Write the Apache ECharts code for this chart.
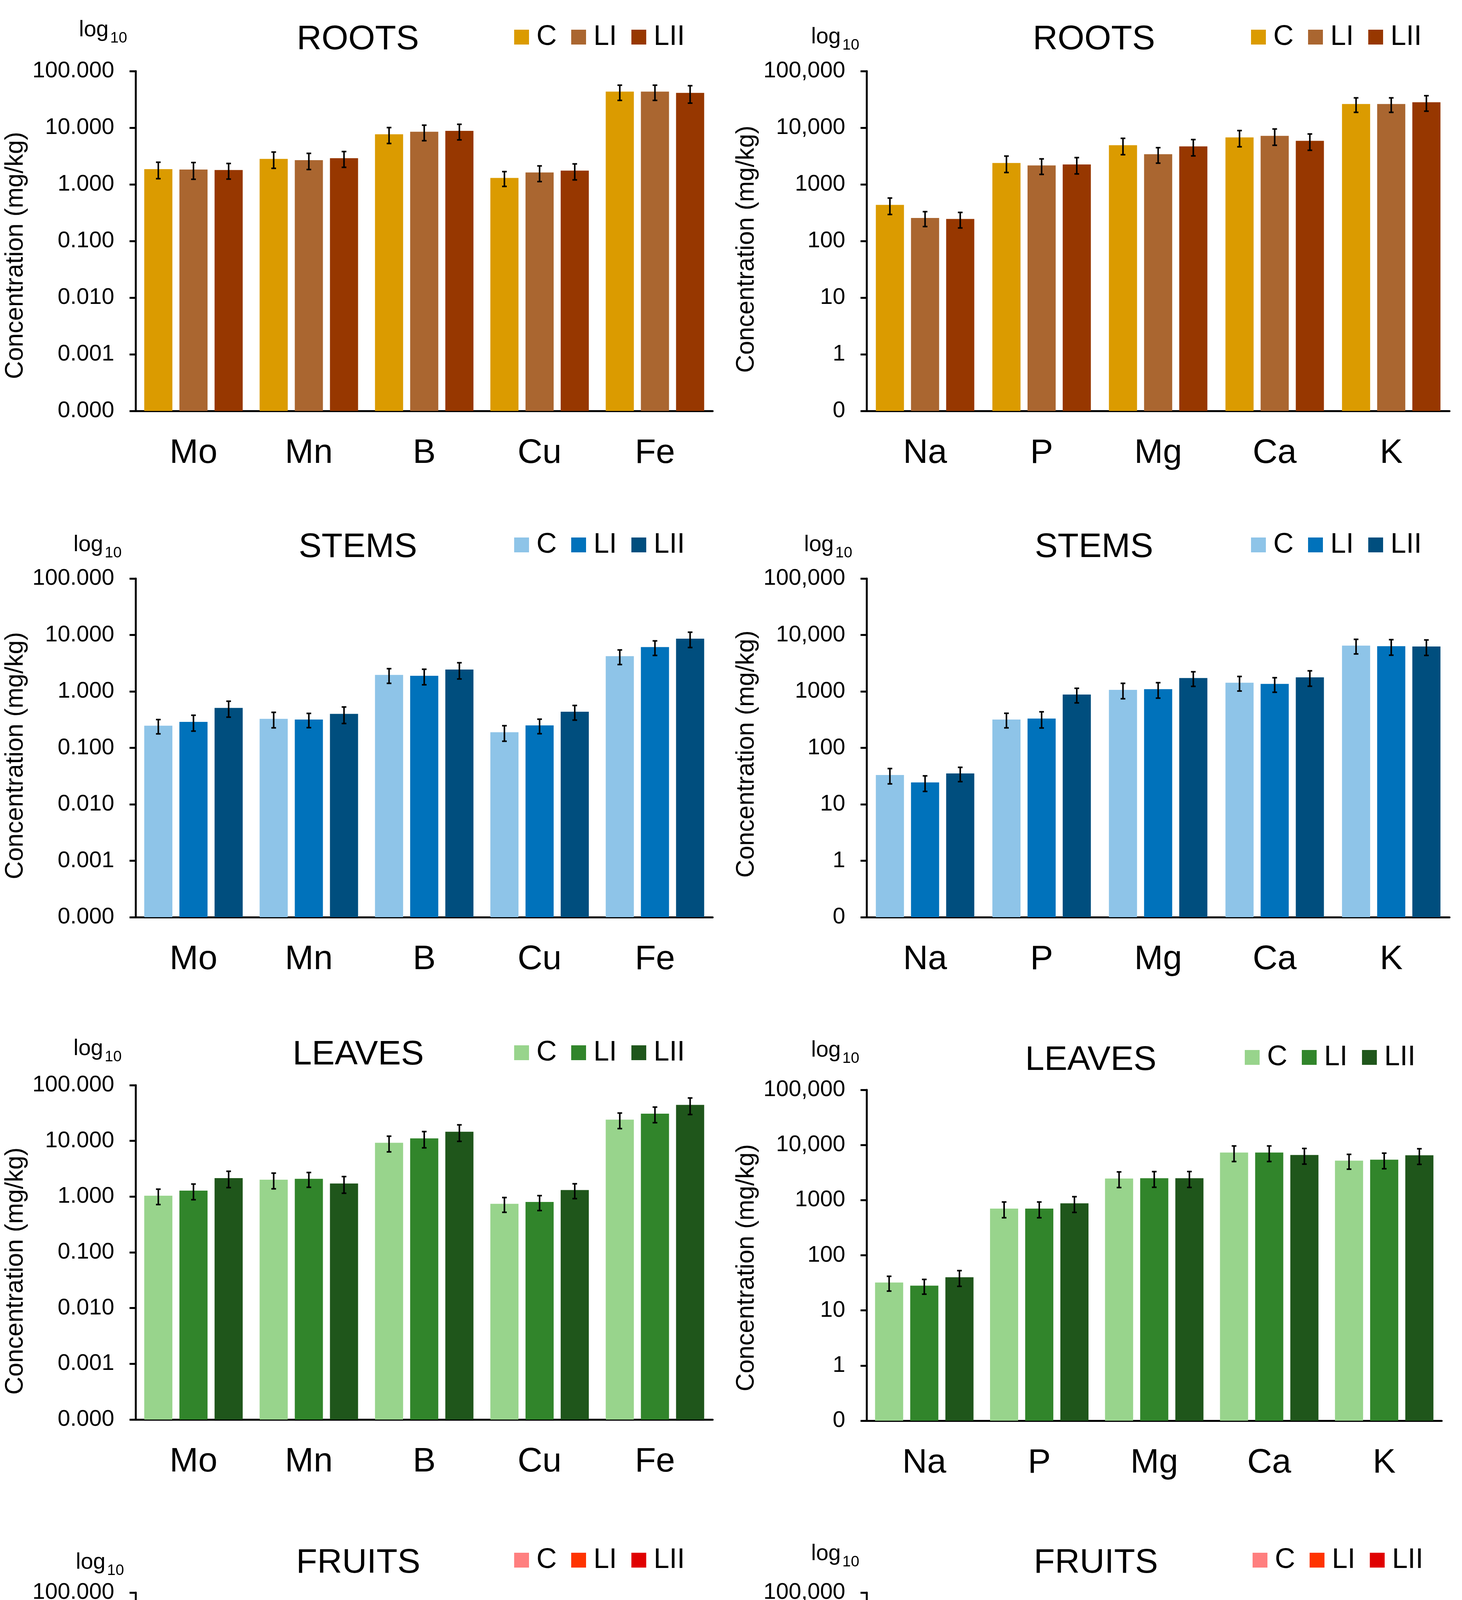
<!DOCTYPE html>
<html>
<head>
<meta charset="utf-8">
<title>Element concentrations in roots, stems, leaves and fruits</title>
<script src="https://cdn.jsdelivr.net/npm/echarts@6/dist/echarts.min.js"></script>
<style>
    html, body { margin: 0; padding: 0; background: #fff; }
    #page { position: relative; width: 3742px; height: 5113px; }
    .panel { position: absolute; }
</style>
</head>
<body>
<div id="page"></div>
<script>
// ---- data (mg/kg) ----
const treatments = ['C', 'LI', 'LII'];
const microElements = ['Mo', 'Mn', 'B', 'Cu', 'Fe'];
const macroElements = ['Na', 'P', 'Mg', 'Ca', 'K'];
const microTicks = ['0.000', '0.001', '0.010', '0.100', '1.000', '10.000', '100.000'];
const macroTicks = ['0', '1', '10', '100', '1000', '10,000', '100,000'];

// roots
const rootsMicroC = [1.86, 2.82, 7.67, 1.30, 43.4];
const rootsMicroLI = [1.83, 2.68, 8.50, 1.62, 43.4];
const rootsMicroLII = [1.79, 2.90, 8.80, 1.75, 41.2];
const rootsMicroErrC = [0.60, 0.90, 2.4, 0.38, 13];
const rootsMicroErrLI = [0.60, 0.85, 2.6, 0.50, 13];
const rootsMicroErrLII = [0.55, 0.90, 2.7, 0.55, 14];
const rootsMacroC = [434, 2390, 4920, 6760, 26200];
const rootsMacroLI = [255, 2160, 3410, 7200, 26200];
const rootsMacroLII = [245, 2250, 4680, 5880, 28200];
const rootsMacroErrC = [140, 770, 1580, 2150, 7500];
const rootsMacroErrLI = [75, 660, 1040, 2300, 7500];
const rootsMacroErrLII = [75, 720, 1500, 1880, 8600];

// stems
const stemsMicroC = [0.247, 0.326, 1.96, 0.189, 4.21];
const stemsMicroLI = [0.288, 0.318, 1.89, 0.250, 6.10];
const stemsMicroLII = [0.510, 0.400, 2.44, 0.437, 8.59];
const stemsMicroErrC = [0.07, 0.10, 0.57, 0.058, 1.22];
const stemsMicroErrLI = [0.09, 0.09, 0.58, 0.072, 1.76];
const stemsMicroErrLII = [0.16, 0.13, 0.78, 0.127, 2.6];
const stemsMacroC = [33, 318, 1066, 1428, 6490];
const stemsMacroLI = [24.4, 330, 1094, 1358, 6320];
const stemsMacroLII = [35.2, 881, 1728, 1775, 6250];
const stemsMacroErrC = [10, 92, 325, 413, 1880];
const stemsMacroErrLI = [7.5, 105, 334, 392, 1940];
const stemsMacroErrLII = [10, 255, 500, 540, 1910];

// leaves
const leavesMicroC = [1.04, 2.01, 9.25, 0.743, 24.1];
const leavesMicroLI = [1.28, 2.09, 11.1, 0.802, 30.8];
const leavesMicroLII = [2.15, 1.72, 14.6, 1.31, 44.3];
const leavesMicroErrC = [0.32, 0.63, 2.9, 0.22, 7.5];
const leavesMicroErrLI = [0.40, 0.62, 3.6, 0.24, 9.6];
const leavesMicroErrLII = [0.70, 0.57, 4.8, 0.39, 14.6];
const leavesMacroC = [32, 702, 2470, 7310, 5200];
const leavesMacroLI = [28.1, 702, 2500, 7310, 5410];
const leavesMacroLII = [40, 877, 2500, 6580, 6500];
const leavesMacroErrC = [9.6, 223, 780, 2300, 1560];
const leavesMacroErrLI = [8.4, 223, 790, 2300, 1700];
const leavesMacroErrLII = [12.7, 278, 800, 2080, 2050];

// fruits
const fruitsMicroC = [0.0926, 0.231, 0.716, 0.143, 3.81];
const fruitsMicroLI = [0.101, 0.131, 0.706, 0.240, 4.56];
const fruitsMicroLII = [0.131, 0.153, 0.754, 0.280, 5.90];
const fruitsMicroErrC = [0.027, 0.071, 0.20, 0.040, 1.18];
const fruitsMicroErrLI = [0.032, 0.041, 0.20, 0.070, 1.42];
const fruitsMicroErrLII = [0.041, 0.045, 0.22, 0.086, 1.83];
const fruitsMacroC = [12.4, 350, 132, 74.5, 2680];
const fruitsMacroLI = [9.38, 316, 139, 57, 2750];
const fruitsMacroLII = [11.4, 378, 167, 72.6, 2820];
const fruitsMacroErrC = [3.9, 108, 43, 23, 737];
const fruitsMacroErrLI = [2.9, 98, 43, 17.5, 847];
const fruitsMacroErrLII = [3.5, 117, 51, 21, 820];

// ---- styles ----
const FONT = "'Liberation Sans', Arial, sans-serif";
const rootsColors = ['#db9b00', '#aa6630', '#973700'];
const stemsColors = ['#8ec4e8', '#0072bb', '#004e7e'];
const leavesColors = ['#98d48c', '#31852b', '#1f561b'];
const fruitsColors = ['#ff7f7f', '#ff3300', '#e00000'];
const BAR_W = 72;
const BAR_GAP = 18;
const CAP = 6;

const micro = { cats: microElements, ticks: microTicks, min: 0.0001, max: 100 };
const macro = { cats: macroElements, ticks: macroTicks, min: 0.1, max: 100000 };

const panels = [
    { title: 'ROOTS', axis: micro, colors: rootsColors,
      values: [rootsMicroC, rootsMicroLI, rootsMicroLII], errors: [rootsMicroErrC, rootsMicroErrLI, rootsMicroErrLII] },
    { title: 'ROOTS', axis: macro, colors: rootsColors,
      values: [rootsMacroC, rootsMacroLI, rootsMacroLII], errors: [rootsMacroErrC, rootsMacroErrLI, rootsMacroErrLII] },
    { title: 'STEMS', axis: micro, colors: stemsColors,
      values: [stemsMicroC, stemsMicroLI, stemsMicroLII], errors: [stemsMicroErrC, stemsMicroErrLI, stemsMicroErrLII] },
    { title: 'STEMS', axis: macro, colors: stemsColors,
      values: [stemsMacroC, stemsMacroLI, stemsMacroLII], errors: [stemsMacroErrC, stemsMacroErrLI, stemsMacroErrLII] },
    { title: 'LEAVES', axis: micro, colors: leavesColors,
      values: [leavesMicroC, leavesMicroLI, leavesMicroLII], errors: [leavesMicroErrC, leavesMicroErrLI, leavesMicroErrLII] },
    { title: 'LEAVES', axis: macro, colors: leavesColors,
      values: [leavesMacroC, leavesMacroLI, leavesMacroLII], errors: [leavesMacroErrC, leavesMacroErrLI, leavesMacroErrLII] },
    { title: 'FRUITS', axis: micro, colors: fruitsColors,
      values: [fruitsMicroC, fruitsMicroLI, fruitsMicroLII], errors: [fruitsMicroErrC, fruitsMicroErrLI, fruitsMicroErrLII] },
    { title: 'FRUITS', axis: macro, colors: fruitsColors,
      values: [fruitsMacroC, fruitsMacroLI, fruitsMacroLII], errors: [fruitsMacroErrC, fruitsMacroErrLI, fruitsMacroErrLII] }
];

// ---- layout (px, relative to each panel box) ----
const rowBoxes = [[0, 1290], [1290, 1300], [2590, 1270], [3860, 1253]];
const colBoxes = [[0, 1871], [1871, 1871]];
// grid: [left, top, width, height]; title/legend/log: [x, middleY]
const layouts = [
    { grid: [326, 182, 1498, 870], title: [916, 102], legend: [1316, 95], log: [202, 77], nameGap: 234, nameShift: 37 },
    { grid: [339, 182, 1500, 870], title: [929, 102], legend: [1331, 95], log: [205, 95], nameGap: 234, nameShift: 21 },
    { grid: [317, 191, 1507, 867], title: [916, 112], legend: [1316, 105], log: [188, 105], nameGap: 229, nameShift: 20 },
    { grid: [323, 191, 1516, 867], title: [929, 112], legend: [1331, 105], log: [187, 105], nameGap: 216, nameShift: 16 },
    { grid: [310, 188, 1514, 856], title: [917, 111], legend: [1316, 105], log: [188, 95], nameGap: 222, nameShift: 48 },
    { grid: [319, 200, 1500, 847], title: [921, 125], legend: [1315, 117], log: [205, 99], nameGap: 216, nameShift: 32 },
    { grid: [310, 217, 1514, 856], title: [917, 142], legend: [1316, 134], log: [194, 140], nameGap: 222, nameShift: 50 },
    { grid: [323, 217, 1524, 863], title: [934, 142], legend: [1335, 134], log: [205, 118], nameGap: 218, nameShift: 40 }
];

function errorBar(offset) {
    return function (params, api) {
        const i = api.value(0);
        const v = api.value(1);
        const e = api.value(2);
        const hi = api.coord([i, v + e]);
        const lo = api.coord([i, v - e]);
        const x = hi[0] + offset;
        const line = { stroke: '#000', lineWidth: 4 };
        return {
            type: 'group',
            children: [
                { type: 'line', shape: { x1: x, y1: hi[1], x2: x, y2: lo[1] }, style: line },
                { type: 'line', shape: { x1: x - CAP, y1: hi[1], x2: x + CAP, y2: hi[1] }, style: line },
                { type: 'line', shape: { x1: x - CAP, y1: lo[1], x2: x + CAP, y2: lo[1] }, style: line }
            ]
        };
    };
}

function buildOption(p, lay) {
    const [gl, gt, gw, gh] = lay.grid;
    const logMin = Math.log10(p.axis.min);

    const bars = treatments.map((t, k) => ({
        type: 'bar',
        name: t,
        data: p.values[k],
        barWidth: BAR_W,
        barGap: (BAR_GAP / BAR_W * 100) + '%',
        itemStyle: { color: p.colors[k] },
        silent: true
    }));

    const errs = treatments.map((t, k) => ({
        type: 'custom',
        z: 5,
        silent: true,
        data: p.values[k].map((v, i) => [i, v, p.errors[k][i]]),
        encode: { x: 0, y: 1 },
        renderItem: errorBar((k - 1) * (BAR_W + BAR_GAP))
    }));

    return {
        animation: false,
        textStyle: { fontFamily: FONT, color: '#000' },
        title: {
            text: p.title,
            left: lay.title[0],
            top: lay.title[1] - 44,
            textAlign: 'center',
            padding: 0,
            textStyle: { fontFamily: FONT, fontSize: 88, fontWeight: 'normal', color: '#000' }
        },
        legend: {
            data: treatments,
            left: lay.legend[0],
            top: lay.legend[1] - 36,
            padding: 0,
            itemWidth: 38,
            itemHeight: 38,
            itemGap: 37,
            icon: 'rect',
            selectedMode: false,
            textStyle: { fontFamily: FONT, fontSize: 72, color: '#000', padding: [0, 0, 0, 14] }
        },
        graphic: [
            { type: 'text', x: lay.log[0], y: lay.log[1],
              style: { text: 'log', fontFamily: FONT, fontSize: 57, fill: '#000', verticalAlign: 'middle' } },
            { type: 'text', x: lay.log[0] + 80, y: lay.log[1] + 21,
              style: { text: '10', fontFamily: FONT, fontSize: 39, fill: '#000', verticalAlign: 'middle' } }
        ],
        grid: { left: gl, top: gt, width: gw, height: gh, containLabel: false },
        xAxis: {
            type: 'category',
            data: p.axis.cats,
            axisLine: { onZero: false, lineStyle: { color: '#000', width: 5 } },
            axisTick: { show: false },
            axisLabel: { fontFamily: FONT, fontSize: 88, color: '#000', margin: 65 }
        },
        yAxis: {
            type: 'log',
            logBase: 10,
            min: p.axis.min,
            max: p.axis.max,
            startValue: p.axis.min,
            name: 'Concentration (mg/kg)',
            nameLocation: 'middle',
            nameRotate: 90,
            nameGap: lay.nameGap,
            nameTextStyle: { fontFamily: FONT, fontSize: 64, color: '#000', padding: [0, lay.nameShift * 2, 0, 0] },
            axisLine: { show: true, lineStyle: { color: '#000', width: 5 } },
            axisTick: { show: true, inside: false, length: 16, lineStyle: { color: '#000', width: 5 } },
            splitLine: { show: false },
            axisLabel: {
                fontFamily: FONT,
                fontSize: 58,
                color: '#000',
                margin: 55,
                formatter: (v) => p.axis.ticks[Math.round(Math.log10(v) - logMin)]
            }
        },
        series: bars.concat(errs)
    };
}

const page = document.getElementById('page');
panels.forEach((p, idx) => {
    const row = rowBoxes[Math.floor(idx / 2)];
    const col = colBoxes[idx % 2];
    const el = document.createElement('div');
    el.className = 'panel';
    el.style.left = col[0] + 'px';
    el.style.top = row[0] + 'px';
    el.style.width = col[1] + 'px';
    el.style.height = row[1] + 'px';
    page.appendChild(el);

    const chart = echarts.init(el);
    chart.setOption(buildOption(p, layouts[idx]));
});
</script>
</body>
</html>
